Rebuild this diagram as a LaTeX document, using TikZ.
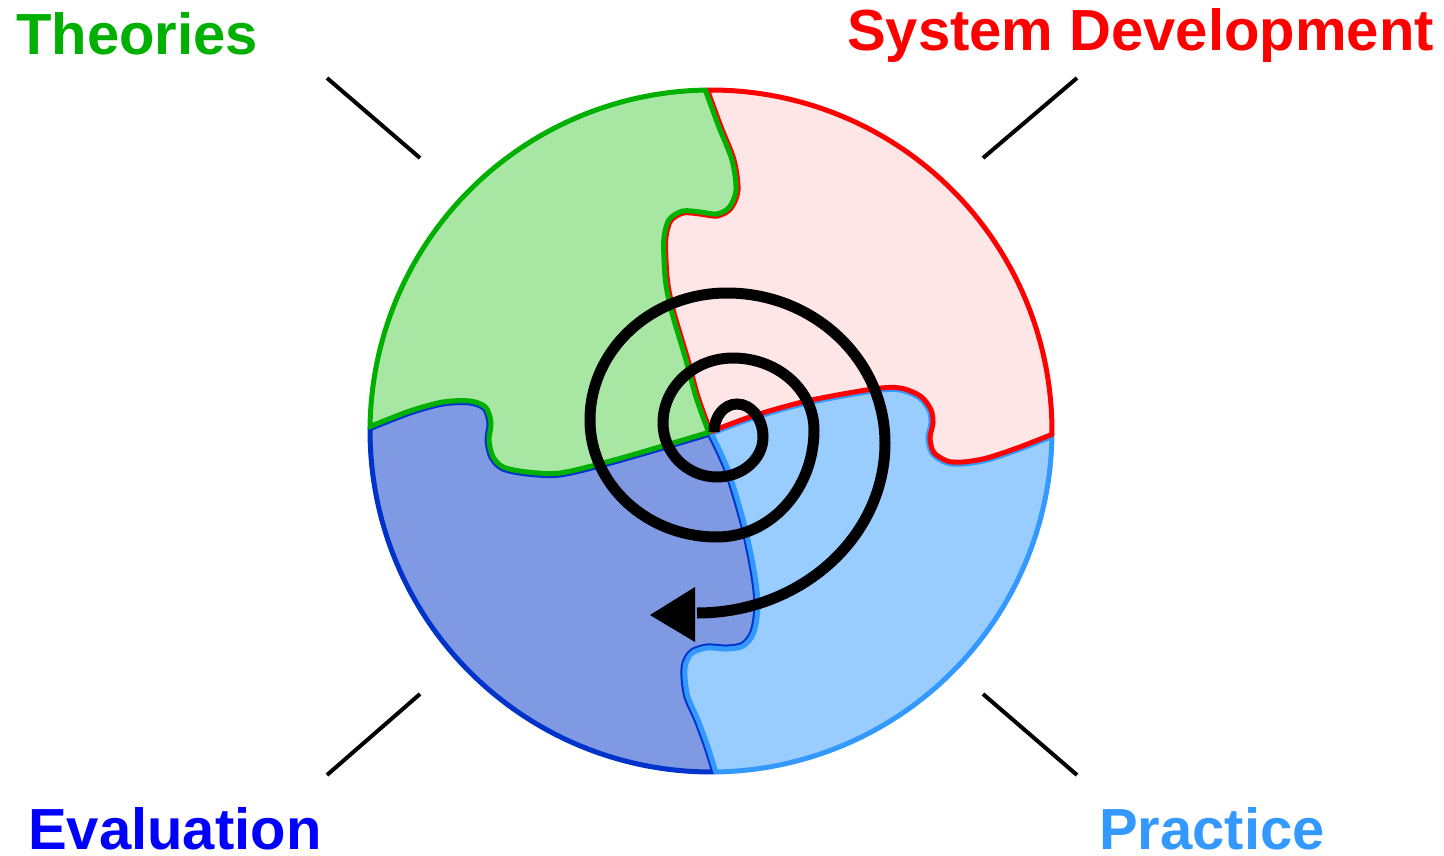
\documentclass[tikz,border=0pt]{standalone}
\usepackage{fontspec}
\setmainfont{Liberation Sans}
\definecolor{gfill}{RGB}{168,230,164}
\definecolor{gline}{RGB}{0,176,0}
\definecolor{rfill}{RGB}{255,230,230}
\definecolor{rline}{RGB}{255,0,0}
\definecolor{lfill}{RGB}{153,204,255}
\definecolor{lline}{RGB}{51,153,255}
\definecolor{dfill}{RGB}{127,153,227}
\definecolor{dline}{RGB}{0,51,204}
\definecolor{evtext}{RGB}{0,0,255}
\newcommand\pieceG{(C) -- plot[smooth] coordinates {(710,433) (697,397) (687,360) (673,313) (667,285) (665,260) (665,237) (670,220) (683,212) (700,213) (717,215) (730,208) (737,190) (733,160) (720,127) (706,89)}
 -- plot[domain=269.16:180.5,samples=60] ({711+342*cos(\x)},{431+342*sin(\x)})
 -- plot[smooth] coordinates {(369,428) (410,412) (443,403) (470,402) (485,408) (490,423) (488,440) (492,457) (503,468) (527,473) (560,474) (607,463) (663,447) (710,433)} -- cycle}
\newcommand\pieceR{(C) -- plot[smooth] coordinates {(710,433) (697,397) (687,360) (673,313) (667,285) (665,260) (665,237) (670,220) (683,212) (700,213) (717,215) (730,208) (737,190) (733,160) (720,127) (706,89)}
 -- plot[domain=269.16:360.67,samples=60] ({711+342*cos(\x)},{431+342*sin(\x)})
 -- plot[smooth] coordinates {(1053,435) (1020,448) (987,459) (963,463) (947,462) (933,453) (929,438) (932,423) (930,410) (920,397) (900,389) (873,390) (807,402) (753,417) (710,433)} -- cycle}
\newcommand\pieceL{(C) -- plot[smooth] coordinates {(710,433) (753,417) (807,402) (873,390) (900,389) (920,397) (930,410) (932,423) (929,438) (933,453) (947,462) (963,463) (987,459) (1020,448) (1053,435)}
 -- plot[domain=0.67:89.33,samples=60] ({711+342*cos(\x)},{431+342*sin(\x)})
 -- plot[smooth] coordinates {(715,773) (707,747) (697,720) (687,697) (684,677) (685,663) (692,652) (707,647) (727,648) (743,645) (753,632) (757,605) (753,570) (743,523) (727,470) (710,433)} -- cycle}
\newcommand\pieceD{(C) -- plot[smooth] coordinates {(710,433) (727,470) (743,523) (753,570) (757,605) (753,632) (743,645) (727,648) (707,647) (692,652) (685,663) (684,677) (687,697) (697,720) (707,747) (715,773)}
 -- plot[domain=89.33:180.5,samples=60] ({711+342*cos(\x)},{431+342*sin(\x)})
 -- plot[smooth] coordinates {(369,428) (410,412) (443,403) (470,402) (485,408) (490,423) (488,440) (492,457) (503,468) (527,473) (560,474) (607,463) (663,447) (710,433)} -- cycle}
\newcommand\drawpiece[3]{%
  \fill[#2] #1;
  \begin{scope}\clip #1; \draw[line width=7pt,#3,line join=round] #1; \end{scope}
  \draw[line width=3pt,#3,line join=round] #1;
}
\tikzset{
  label/.style={font=\fontsize{58}{60}\selectfont\bfseries, inner sep=0pt, anchor=base west},
  tick/.style={line width=4pt, black},
  spiral/.style={line width=11pt, black}
}
\begin{document}
\begin{tikzpicture}[x=1pt,y=-1pt]
\useasboundingbox (0,0) rectangle (1444,856);
\coordinate (C) at (710,433);
\drawpiece{\pieceD}{dfill}{dline}
\drawpiece{\pieceL}{lfill}{lline}
\drawpiece{\pieceR}{rfill}{rline}
\drawpiece{\pieceG}{gfill}{gline}
% spiral: quarter-ellipse pieces between extreme points
\coordinate (s0) at (714,432);
\coordinate (t1) at (737,404);
\coordinate (r1) at (763,437);
\coordinate (b1) at (717,477);
\coordinate (l1) at (663,423);
\coordinate (t2) at (733,358);
\coordinate (r2) at (814,430);
\coordinate (b2) at (717,537);
\coordinate (l2) at (590,420);
\coordinate (t3) at (727,293);
\coordinate (r3) at (885,443);
\coordinate (se) at (697,613);
\draw[spiral]
  (s0) .. controls (714,416.5) and (724.3,404) .. (t1)
       .. controls (751.4,404) and (763,418.8) .. (r1)
       .. controls (763,459.1) and (742.4,477) .. (b1)
       .. controls (687.2,477) and (663,452.8) .. (l1)
       .. controls (663,387.1) and (694.3,358) .. (t2)
       .. controls (777.7,358) and (814,390.2) .. (r2)
       .. controls (814,489.1) and (770.6,537) .. (b2)
       .. controls (646.9,537) and (590,484.6) .. (l2)
       .. controls (590,349.9) and (651.3,293) .. (t3)
       .. controls (814.3,293) and (885,360.2) .. (r3)
       .. controls (885,537) and (800.8,613) .. (se);
\coordinate (tip) at (650,615);
\coordinate (h1) at (695,587);
\coordinate (h2) at (695,642);
\fill[black] (tip) -- (h1) -- (h2) -- cycle;
% ticks
\coordinate (tl1) at (327,78); \coordinate (tl2) at (420,158);
\coordinate (tr1) at (1077,78); \coordinate (tr2) at (983,158);
\coordinate (bl1) at (420,694); \coordinate (bl2) at (327,775);
\coordinate (br1) at (983,694); \coordinate (br2) at (1077,775);
\draw[tick] (tl1) -- (tl2);
\draw[tick] (tr1) -- (tr2);
\draw[tick] (bl1) -- (bl2);
\draw[tick] (br1) -- (br2);
% labels
\node[label, text=gline] (theories) at (16,55) {Theories};
\node[label, text=rline] (sysdev) at (847,51) {System Development};
\node[label, text=evtext] (eval) at (28,849) {Evaluation};
\node[label, text=lline] (practice) at (1099,849) {Practice};
\end{tikzpicture}
\end{document}
